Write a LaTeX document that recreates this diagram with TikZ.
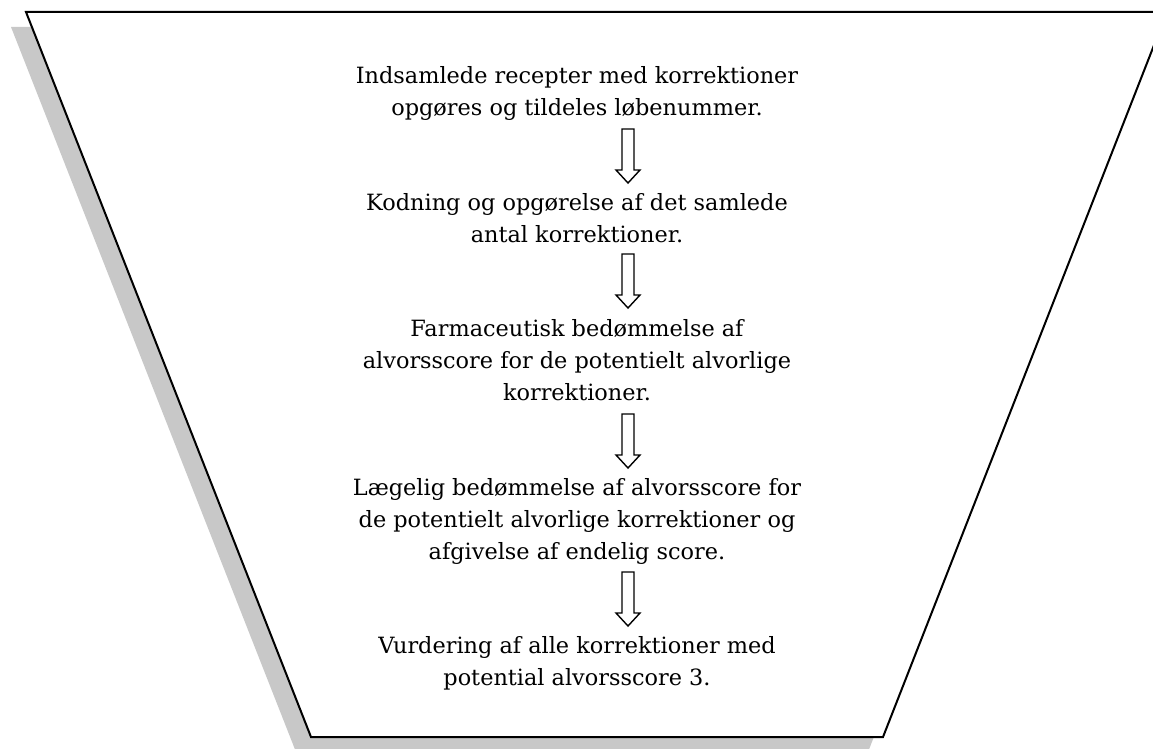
\documentclass[tikz,border=0pt]{standalone}
\usepackage{fontspec}
\setmainfont{DejaVu Serif}
\definecolor{shadowgray}{RGB}{200,200,200}
\tikzset{
  funnel/.style={draw=black, line width=2pt, fill=white, line join=miter},
  funnelshadow/.style={fill=shadowgray, draw=none},
  stepText/.style={align=center, inner sep=0pt, anchor=base,
    font=\fontsize{22.4pt}{32pt}\selectfont},
  blockArrow/.style={draw=black, line width=1.4pt, fill=white, line join=miter},
  downarrow/.pic={\path[blockArrow] (-6,0) -- (6,0) -- (6,41) -- (12,41) -- (0,54)
     -- (-12,41) -- (-6,41) -- cycle;}
}
\begin{document}
\begin{tikzpicture}[x=1pt,y=-1pt]
\useasboundingbox (0,0) rectangle (1153,749);
\clip (0,0) rectangle (1153,749);
% shadow
\path[funnelshadow] (11,27) -- (1152,27) -- (868,752) -- (296,752) -- cycle;
% funnel
\path[funnel] (26,12) -- (1167,12) -- (883,737) -- (311,737) -- cycle;
% texts (anchor base = baseline of last line)
\node[stepText] (t1) at (577,116) {Indsamlede recepter med korrektioner\\opgøres og tildeles løbenummer.};
\node[stepText] (t2) at (577,242) {Kodning og opgørelse af det samlede\\antal korrektioner.};
\node[stepText] (t3) at (577,400) {Farmaceutisk bedømmelse af\\alvorsscore for de potentielt alvorlige\\korrektioner.};
\node[stepText] (t4) at (577,559) {Lægelig bedømmelse af alvorsscore for\\de potentielt alvorlige korrektioner og\\afgivelse af endelig score.};
\node[stepText] (t5) at (577,685) {Vurdering af alle korrektioner med\\potential alvorsscore 3.};
% block arrows
\pic (a1) at (628,129) {downarrow};
\pic (a2) at (628,254) {downarrow};
\pic (a3) at (628,414) {downarrow};
\pic (a4) at (628,572) {downarrow};
\end{tikzpicture}
\end{document}
